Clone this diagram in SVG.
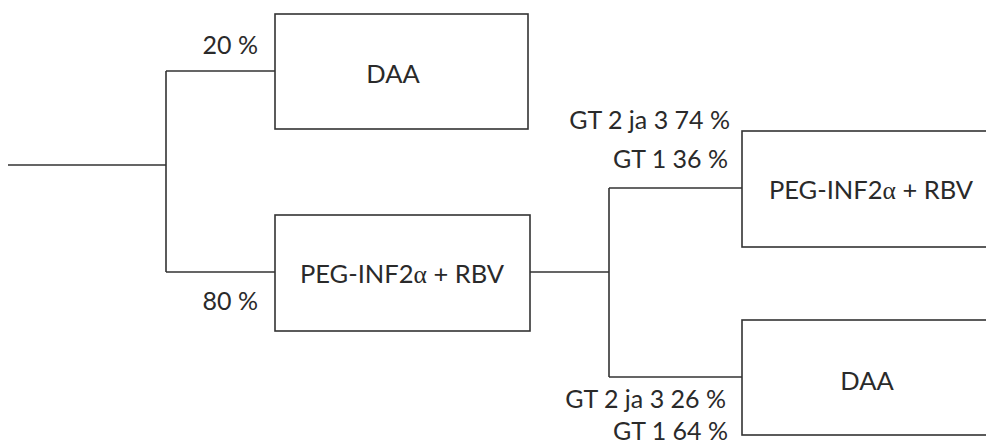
<svg xmlns="http://www.w3.org/2000/svg" width="986" height="446" viewBox="0 0 986 446">
<style>
.box{fill:#fff;stroke:#333;stroke-width:1.6}
.ln{fill:none;stroke:#333;stroke-width:1.6}
text{font-family:Lato,"Open Sans","Liberation Sans",sans-serif;fill:#2a2a2a}
.bt{font-size:25.5px;text-anchor:middle}
.lb{font-size:25px;text-anchor:end}
.al{font-family:"Liberation Serif",serif}
</style>
<rect width="986" height="446" fill="#fff"/>
<g id="connectors">
<path class="ln" d="M8,165 H166 M166,71 V272 M166,71 H275 M166,272 H275"/>
<path class="ln" d="M530,272 H609 M609,188 V377 M609,188 H742 M609,377 H742"/>
</g>
<g id="daa1"><rect class="box" x="275" y="14" width="253" height="115"/><text class="bt" x="393" y="83">DAA</text></g>
<g id="peg1"><rect class="box" x="275" y="215" width="255" height="116"/><text class="bt" x="402" y="283">PEG-INF2<tspan class="al">α</tspan> + RBV</text></g>
<g id="peg2"><rect class="box" x="742" y="131" width="260" height="116"/><text class="bt" x="871" y="199">PEG-INF2<tspan class="al">α</tspan> + RBV</text></g>
<g id="daa2"><rect class="box" x="742" y="320" width="260" height="115"/><text class="bt" x="867" y="390">DAA</text></g>
<g id="labels">
<text class="lb" x="258" y="54">20 %</text>
<text class="lb" x="258" y="310">80 %</text>
<text class="lb" x="730" y="129">GT 2 ja 3 74 %</text>
<text class="lb" x="728" y="168">GT 1 36 %</text>
<text class="lb" x="726" y="408">GT 2 ja 3 26 %</text>
<text class="lb" x="728" y="440">GT 1 64 %</text>
</g>
</svg>
